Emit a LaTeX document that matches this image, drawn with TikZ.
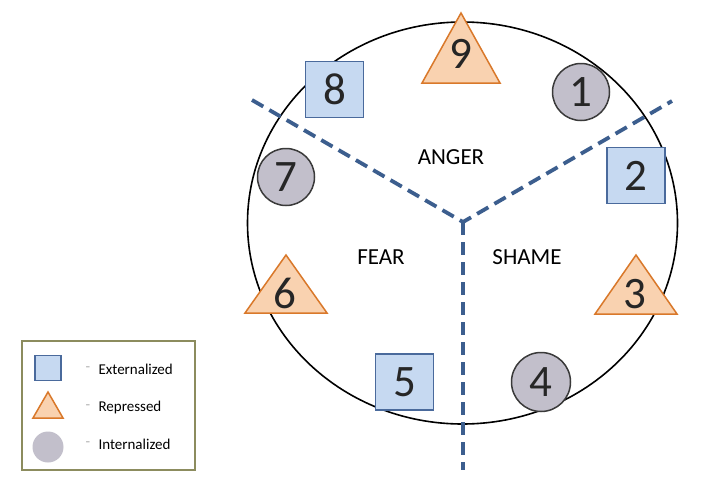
\documentclass[tikz,border=0pt]{standalone}
\usepackage{fontspec}
\setmainfont{Carlito}
\definecolor{sqfill}{HTML}{C6D9F1}
\definecolor{sqedge}{HTML}{4A6A9C}
\definecolor{trifill}{HTML}{F9D2B0}
\definecolor{triedge}{HTML}{D9782A}
\definecolor{cirfill}{HTML}{C2BFCB}
\definecolor{ciredge}{HTML}{3A3A3A}
\definecolor{dashblue}{HTML}{3C5E8E}
\definecolor{boxedge}{HTML}{8C8C5E}
\tikzset{
  num/.style={inner sep=0pt,font=\fontsize{45}{45}\selectfont,text=black!85},
  sq/.style={num,draw=sqedge,fill=sqfill,line width=1.5pt,minimum width=58pt,minimum height=56pt},
  tri/.style={draw=triedge,fill=trifill,line width=1.5pt,line join=miter},
  cir/.style={num,circle,draw=ciredge,fill=cirfill,line width=1.5pt,minimum size=57pt},
  split/.style={dashblue,line width=3.8pt,dash pattern=on 13pt off 7pt},
  zone/.style={font=\fontsize{23}{23}\selectfont},
  key/.style={font=\fontsize{15}{15}\selectfont,anchor=west}
}
\begin{document}
\begin{tikzpicture}[x=1pt,y=-1pt]
\useasboundingbox (0,0) rectangle (720,490);
\fill[white] (0,0) rectangle (720,490);
\draw[line width=1.6pt] (462.5,223) ellipse (215pt and 201pt);
  \coordinate (hub) at (463,222);
  \coordinate (endl) at (252,100);
  \coordinate (endr) at (672,101);
  \coordinate (endb) at (463,470);
  \draw[split] (endl)--(hub)--(endr);
  \draw[split] (hub)--(endb);
  \node[zone] (anger) at (451,157) {ANGER};
  \node[zone] (fear) at (381,257) {FEAR};
  \node[zone] (shame) at (527,257) {SHAME};
  \node[sq] (n8) at (334.5,89.5) {8};
\draw[tri] (461,13) -- (500,83) -- (422,83) -- cycle;
  \node[num] (n9) at (461,54) {9};
  \node[cir] (n1) at (581,92) {1};
  \node[sq] (n2) at (636,175.5) {2};
  \node[cir] (n7) at (286,177) {7};
\draw[tri] (286,255) -- (327,313) -- (245,313) -- cycle;
  \node[num] (n6) at (285,293) {6};
\draw[tri] (636,255) -- (677,314) -- (595,314) -- cycle;
  \node[num] (n3) at (635,294) {3};
  \node[sq] (n5) at (404.5,382) {5};
  \node[cir,minimum size=59pt] (n4) at (541,382) {4};
\draw[boxedge,line width=1.5pt] (22,341) rectangle (195,470);
  \node[sq,minimum width=26pt,minimum height=25pt] (k1) at (48,368) {};
\draw[tri] (48,392) -- (63,418) -- (33,418) -- cycle;
  \node[circle,fill=cirfill,minimum size=31pt] (k3) at (48,447) {};
  \node[key,text=gray!60] (d1) at (82,369) {-};
  \node[key,text=gray!60] (d2) at (82,407) {-};
  \node[key,text=gray!60] (d3) at (82,444) {-};
  \node[key] (l1) at (95,369) {Externalized};
  \node[key] (l2) at (95,407) {Repressed};
  \node[key] (l3) at (95,444) {Internalized};
\end{tikzpicture}
\end{document}
